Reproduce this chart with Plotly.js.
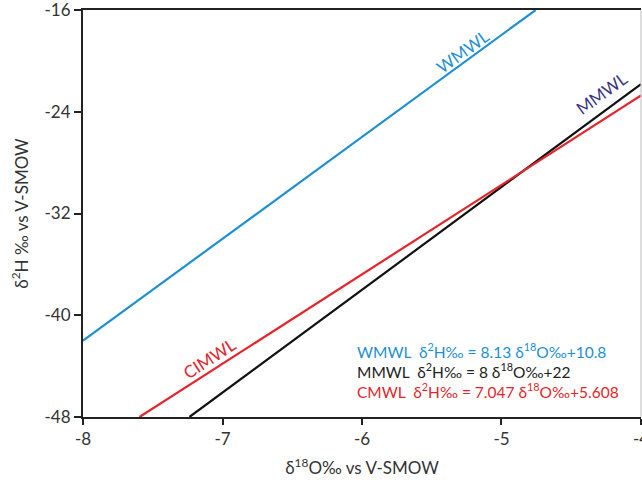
<!DOCTYPE html>
<html><head><meta charset="utf-8">
<script src="https://cdn.plot.ly/plotly-3.0.1.min.js"></script>
<style>html,body{margin:0;padding:0;background:#fff;overflow:hidden}#chart{width:642px;height:482px}</style>
</head><body><div id="chart"></div>
<script>
// Line endpoints (δ18O, δ2H)
var wmwlX = [-8, -4.755];
var wmwlY = [-42.0, -16];
var mmwlX = [-7.237, -4];
var mmwlY = [-48, -21.83];
var cmwlX = [-7.595, -4];
var cmwlY = [-48, -22.72];

var lineNames = ['WMWL', 'MMWL', 'CIMWL'];
var lineColors = ['#1e8fd0', '#111111', '#e3262b'];
var labelColors = ['#1e8fd0', '#3a3585', '#e3262b'];
var labelX = [-5.278, -4.283, -7.096];
var labelY = [-19.28, -22.59, -43.38];
var labelAngle = [-36, -36, -33];

var eqText = [
  'WMWL  δ<sup>2</sup>H‰ = 8.13 δ<sup>18</sup>O‰+10.8',
  'MMWL  δ<sup>2</sup>H‰ = 8 δ<sup>18</sup>O‰+22',
  'CMWL  δ<sup>2</sup>H‰ = 7.047 δ<sup>18</sup>O‰+5.608'
];
var eqColors = ['#1e8fd0', '#222222', '#e3262b'];

var xTicks = [-8, -7, -6, -5, -4];
var yTicks = [-48, -40, -32, -24, -16];

var FONT = 'Lato, "DejaVu Sans", sans-serif';

var traces = [
  {x: wmwlX, y: wmwlY, mode: 'lines', line: {color: lineColors[0], width: 2.2}},
  {x: mmwlX, y: mmwlY, mode: 'lines', line: {color: lineColors[1], width: 2.2}},
  {x: cmwlX, y: cmwlY, mode: 'lines', line: {color: lineColors[2], width: 2.2}}
];

var plotL = 83, plotR = 641, plotT = 10, plotB = 417;
var annotations = [];
for (var i = 0; i < 3; i++) {
  annotations.push({x: labelX[i], y: labelY[i], xref: 'x', yref: 'y', text: lineNames[i],
    showarrow: false, textangle: labelAngle[i], font: {family: FONT, size: 17, color: labelColors[i]}});
}
var eqHtml = eqText.map(function (t, j) {
  return '<span style="color:' + eqColors[j] + '">' + t + '</span>';
}).join('<br>');
annotations.push({x: (355 - plotL) / (plotR - plotL), y: (plotB - 370) / (plotB - plotT),
  xref: 'paper', yref: 'paper', text: eqHtml, align: 'left',
  showarrow: false, xanchor: 'left', yanchor: 'middle', font: {family: FONT, size: 15.5, color: '#222'}});

var layout = {
  width: 642, height: 482,
  margin: {l: plotL, r: 642 - plotR, t: plotT, b: 482 - plotB},
  paper_bgcolor: '#fff', plot_bgcolor: '#fff',
  showlegend: false,
  font: {family: FONT, color: '#333'},
  xaxis: {range: [-8.0001, -3.9999], tickvals: xTicks, ticktext: xTicks.map(String), showgrid: false, zeroline: false,
    showline: true, linecolor: '#222', linewidth: 2, mirror: true, ticks: 'outside', ticklen: 6, tickwidth: 2, tickcolor: '#222',
    ticklabeloverflow: 'allow',
    tickfont: {size: 17, color: '#333'},
    title: {text: 'δ<sup>18</sup>O‰ vs V-SMOW', font: {size: 17, color: '#333'}, standoff: 14}},
  yaxis: {range: [-48.0001, -15.9999], tickvals: yTicks, ticktext: yTicks.map(String), showgrid: false, zeroline: false,
    showline: true, linecolor: '#222', linewidth: 2, mirror: false, ticks: 'outside', ticklen: 7, tickwidth: 2, tickcolor: '#222',
    ticklabeloverflow: 'allow',
    tickfont: {size: 17, color: '#333'},
    title: {text: 'δ<sup>2</sup>H ‰ vs V-SMOW', font: {size: 17, color: '#333'}, standoff: 12}},
  shapes: [{type: 'line', xref: 'paper', yref: 'paper', x0: 1, x1: 1, y0: 0, y1: 1,
    line: {color: '#bbbbbb', width: 1}}],
  annotations: annotations
};
Plotly.newPlot('chart', traces, layout, {displayModeBar: false, staticPlot: true});
</script></body></html>
